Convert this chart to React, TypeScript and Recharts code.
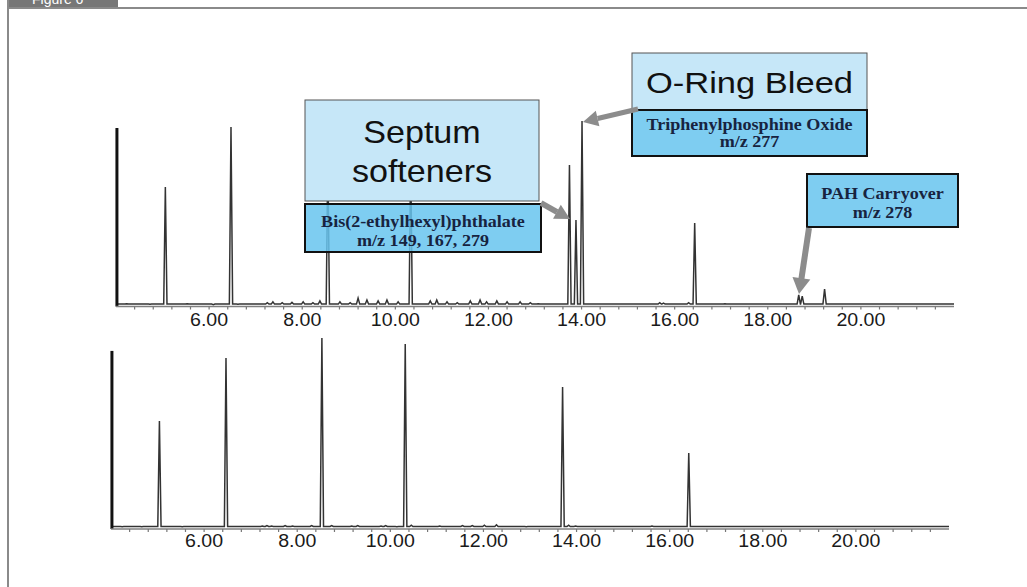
import React from 'react';
import { LineChart, Line, XAxis, YAxis } from 'recharts';

// ---- Data ----
// Upper chromatogram: retention time (min) and relative intensity of each peak / bump
const topPeakTimes = [4.23, 4.73, 5.06, 5.53, 6.09, 6.47, 6.62, 7.25, 7.37, 7.57, 7.78, 8.02, 8.23, 8.38, 8.55, 8.81, 9.03, 9.2, 9.39, 9.63, 9.82, 10.06, 10.33, 10.75, 10.89, 11.11, 11.33, 11.61, 11.82, 11.96, 12.18, 12.4, 12.68, 12.9, 13.07, 13.74, 13.88, 14.01, 15.68, 15.76, 16.3, 16.43, 17.08, 18.665, 18.74, 19.22];
const topPeakHeights = [1.5, 1.2, 64.1, 1.5, 1.0, 96.2, 1.2, 2.0, 2.5, 2.0, 2.2, 2.5, 2.0, 3.0, 80, 2.5, 2.0, 4.5, 3.5, 3.0, 3.5, 2.5, 78, 3.0, 3.5, 2.5, 2.0, 3.0, 3.5, 2.5, 3.0, 2.5, 2.5, 2.0, 1.5, 75.9, 46.4, 99.5, 2.0, 1.8, 2.0, 44.8, 1.5, 6.2, 5.6, 9.4];
const topSolvent = [{ t: 4.02, v: 0 }, { t: 4.02, v: 95.7 }];

// Lower chromatogram
const bottomPeakTimes = [4.24, 4.66, 5.04, 5.53, 6.47, 7.25, 7.35, 7.45, 7.74, 7.9, 8.31, 8.53, 8.74, 9.17, 9.3, 9.8, 9.9, 10.14, 10.32, 10.45, 11.06, 11.55, 11.76, 12.02, 12.28, 12.92, 13.7, 13.83, 13.98, 15.62, 16.41];
const bottomPeakHeights = [1.2, 1.2, 55.7, 1.2, 88.1, 1.5, 1.8, 1.5, 1.8, 1.5, 1.8, 98.5, 1.8, 1.5, 1.8, 1.5, 1.8, 1.2, 95.4, 2.0, 1.5, 1.8, 1.8, 2.0, 2.2, 1.2, 73.2, 2.0, 1.5, 1.5, 39.2];
const bottomSolvent = [{ t: 4.02, v: 0 }, { t: 4.02, v: 91.8 }];

const baselineLevel = 1.3;
const axisTicks = [4.4, 4.8, 5.2, 5.6, 6, 6.4, 6.8, 7.2, 7.6, 8, 8.4, 8.8, 9.2, 9.6, 10, 10.4, 10.8, 11.2, 11.6, 12, 12.4, 12.8, 13.2, 13.6, 14, 14.4, 14.8, 15.2, 15.6, 16, 16.4, 16.8, 17.2, 17.6, 18, 18.4, 18.8, 19.2, 19.6, 20, 20.4, 20.8, 21.2, 21.6];
const majorTicks = [6, 8, 10, 12, 14, 16, 18, 20];

const HALF_WIDTH = 0.035;
function buildTrace(times: number[], heights: number[], base: number) {
  const pts: { t: number; v: number }[] = [{ t: 4.0, v: base }];
  times.forEach((t, i) => {
    pts.push({ t: t - HALF_WIDTH, v: base }, { t, v: heights[i] }, { t: t + HALF_WIDTH, v: base });
  });
  pts.push({ t: 22, v: base });
  return pts;
}

const topTrace = buildTrace(topPeakTimes, topPeakHeights, baselineLevel);
const bottomTrace = buildTrace(bottomPeakTimes, bottomPeakHeights, baselineLevel);

const SANS = '"Liberation Sans", Arial, sans-serif';
const SERIF = '"Liberation Serif", "Times New Roman", serif';

function TimeTick(props: any) {
  const { x, y, payload, labelOffset } = props;
  const v = payload.value as number;
  const isMajor = majorTicks.some((m) => Math.abs(m - v) < 1e-6);
  return (
    <g>
      <line x1={x} x2={x} y1={y} y2={y + 3} stroke="#777" strokeWidth={1.2} />
      {isMajor && (
        <text
          x={x}
          y={y + labelOffset}
          textAnchor="middle"
          fontFamily={SANS}
          fontSize={17.5}
          fill="#1a1a1a"
          transform={`translate(${x} 0) scale(1.12 1) translate(${-x} 0)`}
        >
          {v.toFixed(2)}
        </text>
      )}
    </g>
  );
}

function Chromatogram(props: {
  trace: { t: number; v: number }[];
  solvent: { t: number; v: number }[];
  height: number;
  margin: { top: number; right: number; bottom: number; left: number };
  axisHeight: number;
  labelOffset: number;
}) {
  const { trace, solvent, height, margin, axisHeight, labelOffset } = props;
  return (
    <div style={{ position: 'absolute', left: 0, top: 0 }}>
      <LineChart width={1027} height={height} data={trace} margin={margin}>
        <XAxis
          dataKey="t"
          type="number"
          domain={[4, 22]}
          ticks={axisTicks}
          interval={0}
          height={axisHeight}
          tickSize={0}
          tickMargin={0}
          tickLine={false}
          axisLine={{ stroke: '#808080', strokeWidth: 1.5 }}
          tick={(p: any) => <TimeTick {...p} labelOffset={labelOffset} />}
        />
        <YAxis type="number" domain={[0, 100]} hide />
        <Line
          data={trace}
          dataKey="v"
          type="linear"
          stroke="#333"
          strokeWidth={1.5}
          dot={false}
          activeDot={false}
          isAnimationActive={false}
        />
        <Line
          data={solvent}
          dataKey="v"
          type="linear"
          stroke="#111"
          strokeWidth={3}
          dot={false}
          activeDot={false}
          isAnimationActive={false}
        />
      </LineChart>
    </div>
  );
}

function scaleAbout(cx: number, s: number) {
  return `translate(${cx} 0) scale(${s} 1) translate(${-cx} 0)`;
}

function Annotations() {
  const arrow = '#8c8c8c';
  const lightBox = '#c6e7f8';
  const darkBox = 'rgb(103,196,238)';
  const serifColor = '#17233f';
  return (
    <svg width={1027} height={587} style={{ position: 'absolute', left: 0, top: 0 }}>
      {/* frame + tab */}
      <rect x={7} y={0} width={111} height={8} fill="#777" />
      <text x={32} y={4} fontFamily={SANS} fontSize={14} fill="#fff">Figure 6</text>
      <line x1={7} x2={1027} y1={8} y2={8} stroke="#8a8a8a" strokeWidth={2} />
      <line x1={8} x2={8} y1={0} y2={587} stroke="#8a8a8a" strokeWidth={2} />

      {/* Septum softeners */}
      <rect x={305} y={100} width={234} height={101} fill={lightBox} stroke="#555" strokeWidth={1} />
      <text x={422} y={143} textAnchor="middle" fontFamily={SANS} fontSize={31} fill="#111" transform={scaleAbout(422, 1.1)}>Septum</text>
      <text x={422} y={182} textAnchor="middle" fontFamily={SANS} fontSize={31} fill="#111" transform={scaleAbout(422, 1.1)}>softeners</text>
      <rect x={305} y={204} width={236} height={48} fill={darkBox} fillOpacity={0.85} stroke="#111" strokeWidth={2} />
      <text x={423} y={227} textAnchor="middle" fontFamily={SERIF} fontWeight="bold" fontSize={16} fill={serifColor} transform={scaleAbout(423, 1.13)}>Bis(2-ethylhexyl)phthalate</text>
      <text x={423} y={246} textAnchor="middle" fontFamily={SERIF} fontWeight="bold" fontSize={16} fill={serifColor} transform={scaleAbout(423, 1.13)}>m/z 149, 167, 279</text>

      {/* O-Ring bleed */}
      <rect x={632} y={53} width={235} height={57} fill={lightBox} stroke="#555" strokeWidth={1} />
      <text x={749.5} y={93} textAnchor="middle" fontFamily={SANS} fontSize={30} fill="#111" transform={scaleAbout(749.5, 1.15)}>O-Ring Bleed</text>
      <rect x={632} y={110} width={235} height={46} fill={darkBox} fillOpacity={0.85} stroke="#111" strokeWidth={2} />
      <text x={749.5} y={130} textAnchor="middle" fontFamily={SERIF} fontWeight="bold" fontSize={16} fill={serifColor} transform={scaleAbout(749.5, 1.13)}>Triphenylphosphine Oxide</text>
      <text x={749.5} y={147} textAnchor="middle" fontFamily={SERIF} fontWeight="bold" fontSize={16} fill={serifColor} transform={scaleAbout(749.5, 1.13)}>m/z 277</text>

      {/* PAH carryover */}
      <rect x={807} y={174} width={151} height={53} fill={darkBox} fillOpacity={0.85} stroke="#111" strokeWidth={2} />
      <text x={882.5} y={199} textAnchor="middle" fontFamily={SERIF} fontWeight="bold" fontSize={16} fill={serifColor} transform={scaleAbout(882.5, 1.13)}>PAH Carryover</text>
      <text x={882.5} y={218} textAnchor="middle" fontFamily={SERIF} fontWeight="bold" fontSize={16} fill={serifColor} transform={scaleAbout(882.5, 1.13)}>m/z 278</text>

      {/* arrows */}
      <line x1={541} y1={203} x2={557} y2={212} stroke={arrow} strokeWidth={6} />
      <polygon points="570,219 553,218.8 560.8,204.8" fill={arrow} />
      <line x1={638} y1={109} x2={597.6} y2={118.5} stroke={arrow} strokeWidth={5} />
      <polygon points="583,122 595.8,110.7 599.4,126.3" fill={arrow} />
      <line x1={809} y1={228} x2={801.4} y2={279} stroke={arrow} strokeWidth={6} />
      <polygon points="799,294 792.5,276.9 810.3,279.6" fill={arrow} />
    </svg>
  );
}

export default function App() {
  return (
    <div
      style={{
        position: 'absolute',
        left: 0,
        top: 0,
        width: 1027,
        height: 587,
        background: '#fff',
        overflow: 'hidden',
      }}
    >
      <Chromatogram
        trace={topTrace}
        solvent={topSolvent}
        height={340}
        margin={{ top: 120, right: 73, bottom: 0, left: 116 }}
        axisHeight={33.5}
        labelOffset={19.5}
      />
      <Chromatogram
        trace={bottomTrace}
        solvent={bottomSolvent}
        height={587}
        margin={{ top: 335, right: 78, bottom: 0, left: 111 }}
        axisHeight={58}
        labelOffset={18}
      />
      <Annotations />
    </div>
  );
}
